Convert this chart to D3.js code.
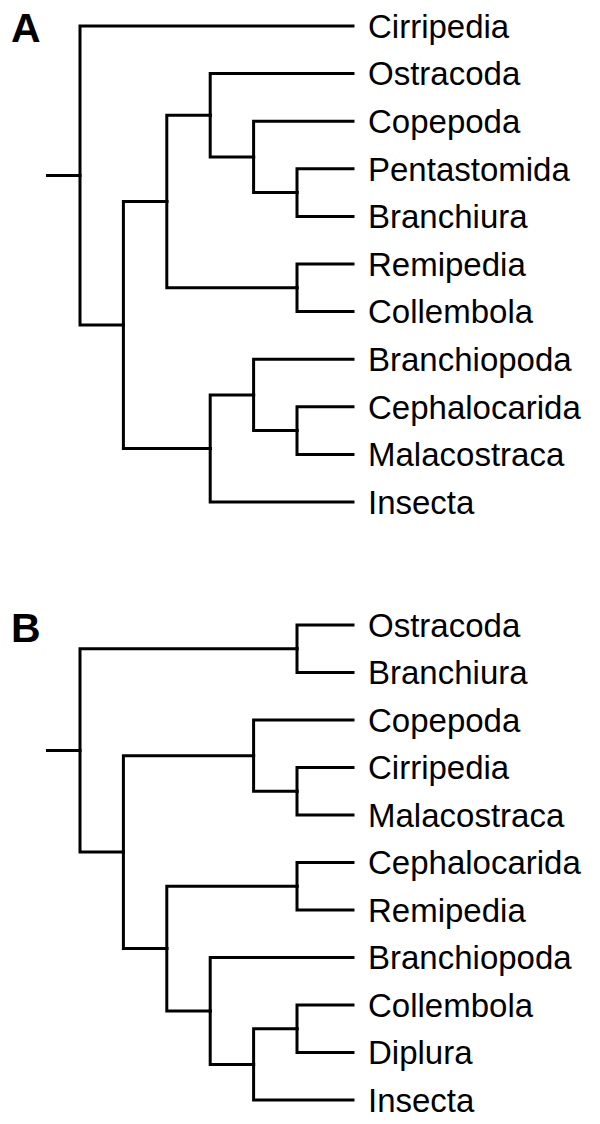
<!DOCTYPE html>
<meta charset="utf-8">
<script src="https://d3js.org/d3.v7.min.js"></script>
<style>
  body { margin: 0; background: #fff; }
</style>
<div id="my_dataviz"></div>
<script>

// trees as nested arrays (a string is a leaf)
var treeA = ["Cirripedia",
  [[["Ostracoda", ["Copepoda", ["Pentastomida", "Branchiura"]]], ["Remipedia", "Collembola"]],
   [["Branchiopoda", ["Cephalocarida", "Malacostraca"]], "Insecta"]]];

var treeB = [["Ostracoda", "Branchiura"],
  [["Copepoda", ["Cirripedia", "Malacostraca"]],
   [["Cephalocarida", "Remipedia"], ["Branchiopoda", [["Collembola", "Diplura"], "Insecta"]]]]];

var panels = ["A", "B"];

var width = 600, height = 1124;

var svg = d3.select("#my_dataviz")
  .append("svg")
    .attr("width", width)
    .attr("height", height);

// horizontal: node height -> x position
var xInner = d3.scaleLinear().domain([6, 1]).range([80, 297]);
var xLeaf = 353, xStub = 46, xLabel = 368;

function drawTree(data, letter, y0, y1) {
  var root = d3.hierarchy(data, function(d) { return Array.isArray(d) ? d : null; });
  var leaves = root.leaves();

  var y = d3.scalePoint()
    .domain(leaves.map(function(d, i) { return i; }))
    .range([y0, y1]);

  leaves.forEach(function(d, i) { d.py = y(i); d.px = xLeaf; });
  root.eachAfter(function(d) {
    if (d.children) {
      d.py = (d.children[0].py + d.children[d.children.length - 1].py) / 2;
      d.px = xInner(d.height);
    }
  });

  var g = svg.append("g");

  // stub at root
  g.append("path")
    .attr("d", "M" + xStub + "," + root.py + "H" + root.px)
    .attr("fill", "none").attr("stroke", "black").attr("stroke-width", 3);

  // elbows
  g.selectAll("path.link")
    .data(root.links())
    .enter()
    .append("path")
      .attr("class", "link")
      .attr("d", function(d) {
        return "M" + d.source.px + "," + d.source.py + "V" + d.target.py + "H" + d.target.px;
      })
      .attr("fill", "none")
      .attr("stroke", "black")
      .attr("stroke-width", 3)
      .attr("stroke-linecap", "square");

  g.selectAll("text.leaf")
    .data(leaves)
    .enter()
    .append("text")
      .attr("class", "leaf")
      .attr("x", xLabel)
      .attr("y", function(d) { return d.py; })
      .attr("dy", "0.36em")
      .attr("font-family", "Liberation Sans, Arial, sans-serif")
      .attr("font-size", "33px")
      .text(function(d) { return d.data; });

  g.append("text")
    .attr("x", 11)
    .attr("y", y0 + (letter == "A" ? 16 : 17))
    .attr("font-family", "Liberation Sans, Arial, sans-serif")
    .attr("font-weight", "bold")
    .attr("font-size", "41px")
    .text(letter);
}

drawTree(treeA, panels[0], 26, 502);
drawTree(treeB, panels[1], 625, 1100);
</script>
